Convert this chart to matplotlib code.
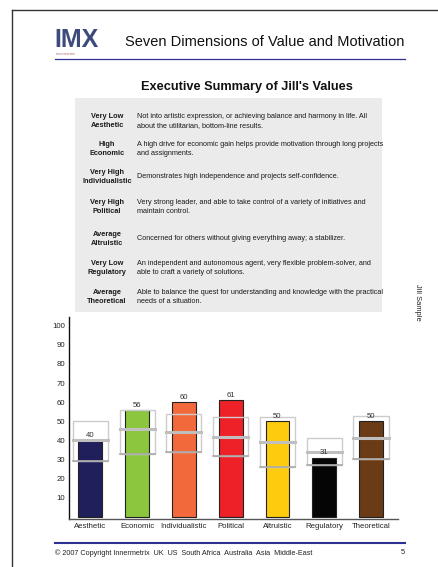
import matplotlib
matplotlib.use("Agg")
import matplotlib.pyplot as plt
from matplotlib.patches import Rectangle
from matplotlib.lines import Line2D

plt.rcParams["font.family"] = ["Liberation Sans", "DejaVu Sans"]

# --- data ---
categories = ["Aesthetic", "Economic", "Individualistic", "Political",
              "Altruistic", "Regulatory", "Theoretical"]
scores = [40, 56, 60, 61, 50, 31, 50]
range_low = [29, 33, 34, 32, 26, 27, 30]
range_mid = [40, 46, 44.5, 42, 39, 34, 41]
range_high = [50, 56, 54, 52, 52, 41, 53]
levels = ["Very Low", "High", "Very High", "Very High", "Average", "Very Low", "Average"]
descriptions = [
    "Not into artistic expression, or achieving balance and harmony in life. All\n"
    "about the utilitarian, bottom-line results.",
    "A high drive for economic gain helps provide motivation through long projects\n"
    "and assignments.",
    "Demonstrates high independence and projects self-confidence.",
    "Very strong leader, and able to take control of a variety of initiatives and\n"
    "maintain control.",
    "Concerned for others without giving everything away; a stabilizer.",
    "An independent and autonomous agent, very flexible problem-solver, and\n"
    "able to craft a variety of solutions.",
    "Able to balance the quest for understanding and knowledge with the practical\n"
    "needs of a situation.",
]
yticks = [10, 20, 30, 40, 50, 60, 70, 80, 90, 100]

bar_colors = ["#1f1f5c", "#8cc63f", "#f26a3b", "#ed2127", "#ffcb0f", "#050505", "#6b3b16"]

W, H = 438, 567
fig = plt.figure(figsize=(W / 100, H / 100), dpi=100)


def fx(x):
    return x / W


def fy(y):
    return 1 - y / H


def hline(x0, x1, y, **kw):
    fig.add_artist(Line2D([fx(x0), fx(x1)], [fy(y), fy(y)], transform=fig.transFigure, **kw))


# page frame
hline(12, 438, 10, color="#333333", lw=1.0)
fig.add_artist(Line2D([fx(12), fx(12)], [fy(10), fy(567)], transform=fig.transFigure,
                      color="#333333", lw=1.0))

# header
fig.text(fx(54), fy(40), "IMX", fontsize=18, fontweight="bold", color="#3d4a7c",
         va="center", ha="left")
fig.text(fx(56), fy(54), "innermetrix", fontsize=3, color="#b07878", va="center")
fig.text(fx(125), fy(42), "Seven Dimensions of Value and Motivation", fontsize=10.5,
         color="#111111", va="center", ha="left")
hline(55, 405, 59, color="#2e3192", lw=0.9)

# executive summary
fig.text(fx(247), fy(87), "Executive Summary of Jill's Values", fontsize=9.2,
         fontweight="bold", ha="center", va="center", color="#111111")
fig.add_artist(Rectangle((fx(75), fy(312)), fx(382 - 75), (312 - 98) / H,
                         transform=fig.transFigure, facecolor="#ebebeb", edgecolor="none"))
row_y = [121, 149, 177, 207, 239, 268, 297]
for lvl, cat, desc, y in zip(levels, categories, descriptions, row_y):
    fig.text(fx(107), fy(y), f"{lvl}\n{cat}", fontsize=5.3, fontweight="bold",
             ha="center", va="center", linespacing=1.5, color="#1a1a1a")
    fig.text(fx(137), fy(y), desc, fontsize=5.2, ha="left", va="center",
             linespacing=1.5, color="#1a1a1a")

# side label
fig.text(fx(417), fy(284), "Jill Sample", fontsize=5.4, rotation=-90,
         ha="center", va="top", color="#222222")

# chart
ax = fig.add_axes([fx(69.3), fy(519.3), fx(397.7 - 69.3), (519.3 - 316.7) / H])
x = list(range(len(categories)))
ax.bar(x, scores, width=0.51, color=bar_colors, edgecolor="#222222", linewidth=0.8, zorder=2)
for i in x:
    ax.add_patch(Rectangle((i - 0.375, range_low[i]), 0.75, range_high[i] - range_low[i],
                           facecolor="none", edgecolor="#cccccc", lw=1.0, zorder=3))
    ax.plot([i - 0.375, i + 0.375], [range_mid[i]] * 2, color="#bfbfbf", lw=2.2, zorder=4)
    ax.plot([i - 0.375, i + 0.375], [range_low[i]] * 2, color="#aaaaaa", lw=1.2, zorder=4)
    ax.text(i, scores[i] + 0.6, str(scores[i]), ha="center", va="bottom",
            fontsize=5.6, color="#333333", zorder=5)

ax.set_xlim(-0.45, 6.57)
ax.set_ylim(-1.3, 104.7)
ax.set_yticks(yticks)
ax.set_xticks(x)
ax.set_xticklabels(categories)
ax.tick_params(length=0, labelsize=5.6, colors="#222222", pad=3)
for side in ["top", "right"]:
    ax.spines[side].set_visible(False)
ax.spines["left"].set_color("#111111")
ax.spines["bottom"].set_color("#555555")
ax.spines["left"].set_linewidth(1.0)
ax.spines["bottom"].set_linewidth(1.0)
ax.patch.set_alpha(0)

# footer
hline(55, 405, 543, color="#2e3192", lw=1.5)
fig.text(fx(55), fy(553), "\u00a9 2007 Copyright Innermetrix  UK  US  South Africa  Australia  Asia  Middle-East",
         fontsize=5.2, ha="left", va="center", color="#222222")
fig.text(fx(405), fy(553), "5", fontsize=5.4, ha="right", va="center", color="#222222")

fig.savefig("out.png", dpi=100)
